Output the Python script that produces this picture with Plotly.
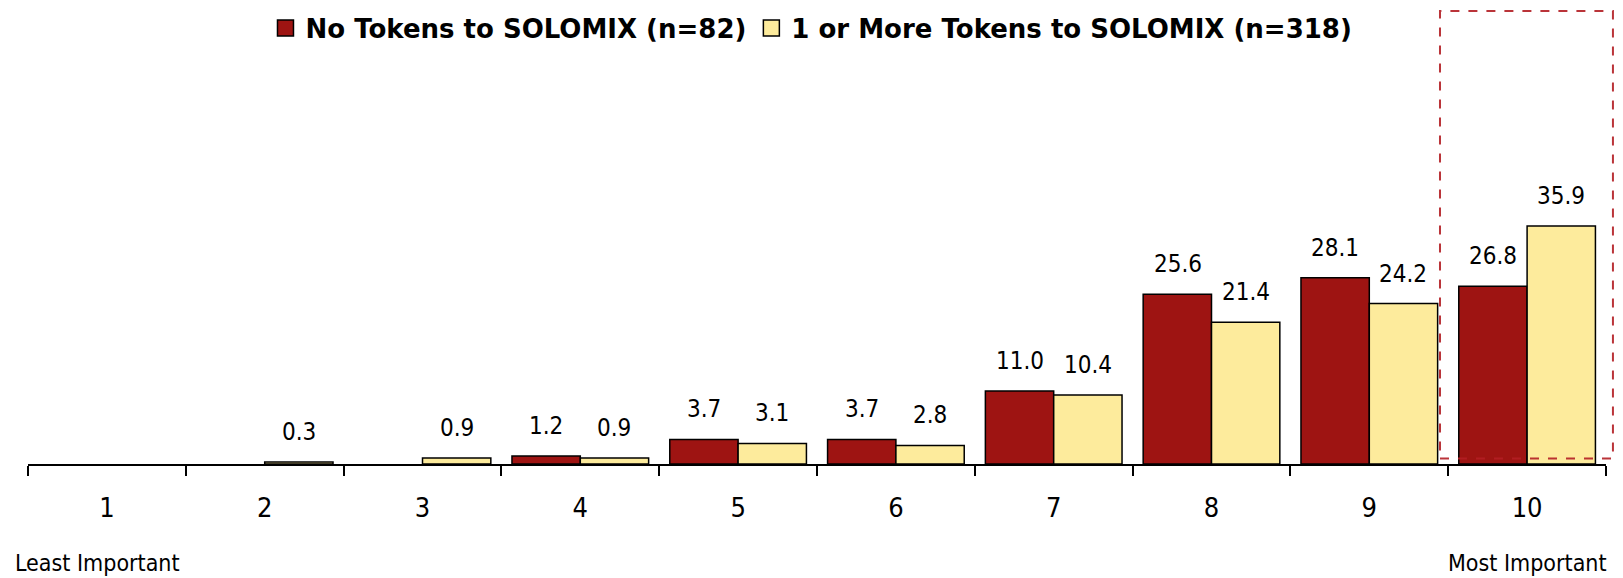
import plotly.graph_objects as go

categories = ["1", "2", "3", "4", "5", "6", "7", "8", "9", "10"]
no_tokens = [0, 0, 0, 1.2, 3.7, 3.7, 11.0, 25.6, 28.1, 26.8]
one_or_more = [0, 0.3, 0.9, 0.9, 3.1, 2.8, 10.4, 21.4, 24.2, 35.9]
series_names = ["No Tokens to SOLOMIX (n=82)", "1 or More Tokens to SOLOMIX (n=318)"]
end_labels = ["Least Important", "Most Important"]

RED = "#9E1412"
YELLOW = "#FDEB9C"
NARROW = "DejaVu Sans Condensed, Liberation Sans Narrow, sans-serif"

fig = go.Figure()
for vals, color, name in ((no_tokens, RED, series_names[0]), (one_or_more, YELLOW, series_names[1])):
    outline = [1.5 if v > 0 else 0 for v in vals]
    fig.add_trace(go.Bar(x=categories, y=vals, name=name, showlegend=False,
                         marker=dict(color=color, line=dict(color="black", width=outline))))
    # legend-only entry with a larger square swatch
    fig.add_trace(go.Scatter(x=[None], y=[None], mode="markers", name=name,
                             marker=dict(symbol="square", size=16, color=color,
                                         line=dict(color="black", width=1.5))))

annotations = []
for vals, shift in ((no_tokens, -34), (one_or_more, 34)):
    for i, v in enumerate(vals):
        if v > 0:
            annotations.append(dict(x=i, y=v, xref="x", yref="y", text=f"{v:.1f}",
                                    showarrow=False, xshift=shift, yshift=30,
                                    yanchor="middle",
                                    font=dict(family=NARROW, size=24, color="black")))
annotations.append(dict(x=-0.0097, y=-0.218, xref="paper", yref="paper", xanchor="left",
                        yanchor="middle", text=end_labels[0], showarrow=False,
                        font=dict(family=NARROW, size=23, color="black")))
annotations.append(dict(x=1.0022, y=-0.218, xref="paper", yref="paper", xanchor="right",
                        yanchor="middle", text=end_labels[1], showarrow=False,
                        font=dict(family=NARROW, size=23, color="black")))

fig.update_layout(
    width=1615, height=570,
    margin=dict(l=20, r=17, t=2, b=114, autoexpand=False),
    paper_bgcolor="white", plot_bgcolor="white",
    barmode="group", bargap=0.134, bargroupgap=0,
    showlegend=True,
    legend=dict(orientation="h", xref="paper", yref="paper",
                x=0.4965, xanchor="center", y=1.012, yanchor="top",
                font=dict(family="DejaVu Sans, sans-serif", size=26, color="black",
                          weight="bold"),
                itemsizing="trace", itemwidth=30, tracegroupgap=0,
                bgcolor="rgba(0,0,0,0)"),
    xaxis=dict(type="category", showline=True, linecolor="black", linewidth=1.5,
               ticks="outside", tickson="boundaries", ticklen=10, tickwidth=1.5,
               tickcolor="black", showgrid=False, ticklabelstandoff=19,
               range=[-0.5, 9.5], automargin=False,
               tickfont=dict(family=NARROW, size=27, color="black")),
    yaxis=dict(visible=False, range=[0, 68.48], automargin=False),
    annotations=annotations,
    shapes=[dict(type="rect", xref="paper", yref="paper",
                 x0=0.8948, x1=1.0044, y0=0.0121, y1=0.9978,
                 line=dict(color="rgba(178,30,35,0.9)", width=2, dash="dash"),
                 fillcolor="rgba(0,0,0,0)", layer="above")],
)

fig.write_html("out.html")
